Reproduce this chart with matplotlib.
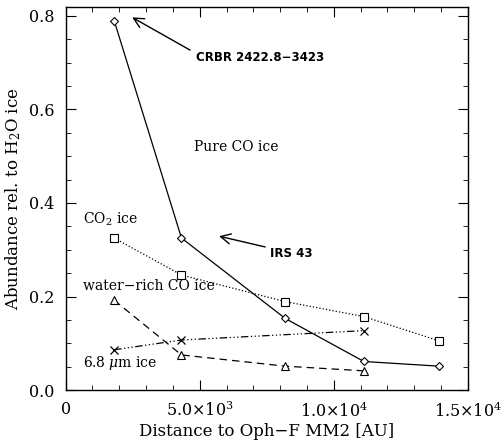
import matplotlib
matplotlib.use("Agg")
import matplotlib.pyplot as plt
from matplotlib.ticker import MultipleLocator, FixedLocator

dist = [1810, 4320, 8190, 11120, 13930]
pure_co = [0.790, 0.325, 0.153, 0.061, 0.051]
co2 = [0.325, 0.246, 0.189, 0.157, 0.105]
water_rich_co = [0.192, 0.075, 0.051, 0.041]
ice_68 = [0.086, 0.107, 0.127]

xticks = [0, 5000, 10000, 15000]
xticklabels = ["0", r"5.0$\times$10$^3$", r"1.0$\times$10$^4$", r"1.5$\times$10$^4$"]
yticks = [0.0, 0.2, 0.4, 0.6, 0.8]
yticklabels = ["0.0", "0.2", "0.4", "0.6", "0.8"]

plt.rcParams['font.family'] = ['DejaVu Serif']
plt.rcParams['mathtext.fontset'] = 'dejavuserif'

fig = plt.figure(figsize=(5.01, 4.43), dpi=100)
ax = fig.add_axes([0.131, 0.1196, 0.803, 0.8644])

ax.plot(dist, pure_co, '-', color='black', lw=0.9, marker='D', ms=4,
        mfc='white', mec='black', mew=0.8)
ax.plot(dist, co2, ':', color='black', lw=0.9, marker='s', ms=6,
        mfc='white', mec='black', mew=0.8)
ax.plot(dist[:4], water_rich_co, '--', color='black', lw=0.9, marker='^', ms=6,
        mfc='white', mec='black', mew=0.8, dashes=(6, 4))
ax.plot([dist[0], dist[1], dist[3]], ice_68, color='black', lw=0.9, marker='x', ms=6,
        mew=0.9, dashes=(6, 2, 1, 2, 1, 2, 1, 2))

ax.set_xlim(0, 15000)
ax.set_ylim(0, 0.819)
ax.xaxis.set_major_locator(FixedLocator(xticks))
ax.set_xticklabels(xticklabels)
ax.yaxis.set_major_locator(FixedLocator(yticks))
ax.set_yticklabels(yticklabels)
ax.xaxis.set_minor_locator(MultipleLocator(1000))
ax.yaxis.set_minor_locator(MultipleLocator(0.05))
ax.tick_params(which='both', direction='in', top=True, right=True, labelsize=11.5, pad=8)
ax.tick_params(which='major', length=7)
ax.tick_params(which='minor', length=3.5)
for s in ax.spines.values():
    s.set_linewidth(1.0)
lbls = ax.get_xticklabels()
lbls[-1].set_ha('center')
lbls[-1].set_x(0)

ax.set_xlabel("Distance to Oph\u2212F MM2 [AU]", fontsize=12, labelpad=2)
ax.set_ylabel(r"Abundance rel. to H$_2$O ice", fontsize=12, labelpad=4)

arrow = dict(arrowstyle='->', color='black', lw=1.0, shrinkA=0, shrinkB=0, mutation_scale=18)
ax.annotate("", xy=(2480, 0.797), xytext=(4640, 0.727), arrowprops=arrow)
ax.text(4850, 0.712, "CRBR 2422.8\u22123423", fontsize=8.5, fontweight='bold',
        family='DejaVu Sans', va='center', ha='left')
ax.annotate("", xy=(5720, 0.329), xytext=(7440, 0.306), arrowprops=arrow)
ax.text(7630, 0.293, "IRS 43", fontsize=8.5, fontweight='bold',
        family='DejaVu Sans', va='center', ha='left')
ax.text(4800, 0.519, "Pure CO ice", fontsize=10, va='center', ha='left')
ax.text(650, 0.365, r"CO$_2$ ice", fontsize=10, va='center', ha='left')
ax.text(650, 0.223, "water\u2212rich CO ice", fontsize=10, va='center', ha='left')
ax.text(650, 0.058, r"6.8 $\mu$m ice", fontsize=10, va='center', ha='left')

fig.savefig("out.png", dpi=100)
